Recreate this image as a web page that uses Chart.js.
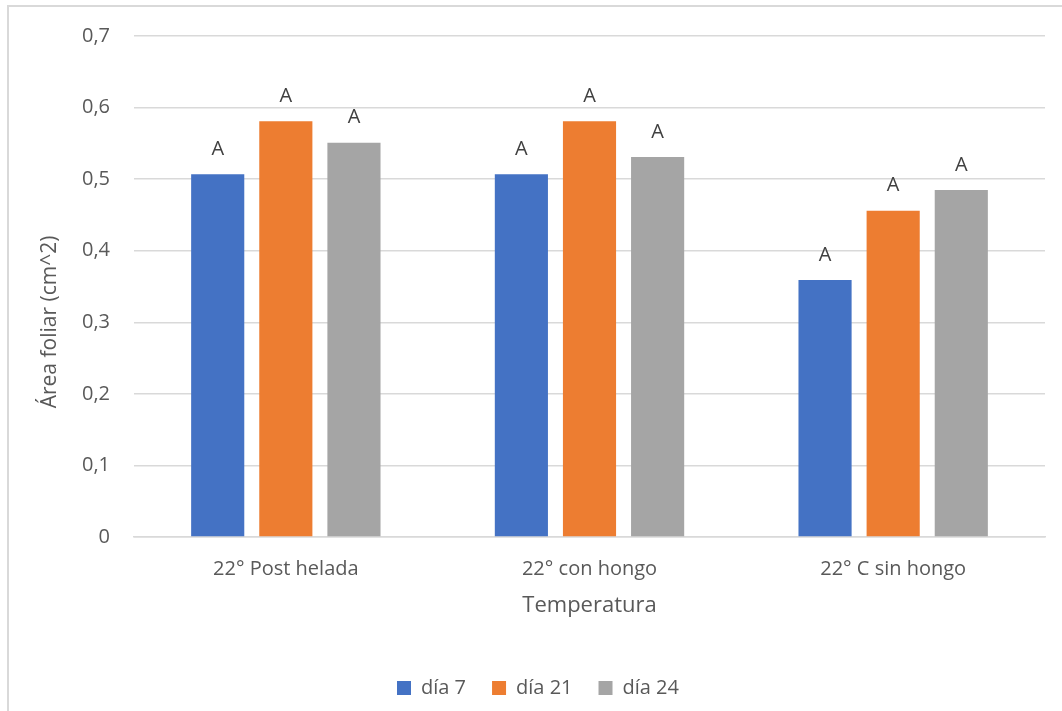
<!DOCTYPE html>
<html>
<head>
<meta charset="utf-8">
<script src="https://cdn.jsdelivr.net/npm/chart.js@4"></script>
<style>
  html, body { margin: 0; padding: 0; background: #ffffff; }
  #wrap { position: relative; width: 1062px; height: 711px; }
</style>
</head>
<body>
<div id="wrap"><canvas id="chart" width="1062" height="711"></canvas></div>
<script>
// Área foliar por tratamiento y día de medición
const categories = ['22° Post helada', '22° con hongo', '22° C sin hongo'];
const seriesNames = ['día 7', 'día 21', 'día 24'];
const dia7 = [0.507, 0.507, 0.359];
const dia21 = [0.581, 0.581, 0.456];
const dia24 = [0.551, 0.531, 0.485];
const letters7 = ['A', 'A', 'A'];
const letters21 = ['A', 'A', 'A'];
const letters24 = ['A', 'A', 'A'];
const yTicks = [0, 0.1, 0.2, 0.3, 0.4, 0.5, 0.6, 0.7];
const xTitle = 'Temperatura';
const yTitle = 'Área foliar (cm^2)';

const FONT = '"Open Sans", "Liberation Sans", sans-serif';
const TEXT = '#595959';
const colors = ['#4472C4', '#ED7D31', '#A5A5A5'];
const seriesValues = [dia7, dia21, dia24];
const seriesLetters = [letters7, letters21, letters24];

// Thin frame along the top and left edges of the chart object
const framePlugin = {
  id: 'frame',
  beforeDraw(chart) {
    const ctx = chart.ctx;
    ctx.save();
    ctx.fillStyle = '#d9d9d9';
    ctx.fillRect(7, 5, chart.width - 7, 2);
    ctx.fillRect(7, 5, 2, chart.height - 5);
    ctx.restore();
  }
};

// Significance letters above each bar
const lettersPlugin = {
  id: 'letters',
  afterDatasetsDraw(chart) {
    const ctx = chart.ctx;
    ctx.save();
    ctx.font = '20px ' + FONT;
    ctx.fillStyle = '#404040';
    ctx.textAlign = 'center';
    ctx.textBaseline = 'middle';
    chart.data.datasets.forEach((ds, di) => {
      const meta = chart.getDatasetMeta(di);
      meta.data.forEach((bar, i) => {
        ctx.fillText(ds.letters[i], bar.x, bar.y - 25);
      });
    });
    ctx.restore();
  }
};

// Vertical axis title
const yTitlePlugin = {
  id: 'yTitle',
  afterDraw(chart) {
    const ctx = chart.ctx;
    ctx.save();
    ctx.font = '21px ' + FONT;
    ctx.fillStyle = TEXT;
    ctx.textAlign = 'center';
    ctx.textBaseline = 'middle';
    ctx.translate(50, 322);
    ctx.rotate(-Math.PI / 2);
    ctx.fillText(yTitle, 0, 0);
    ctx.restore();
  }
};

new Chart(document.getElementById('chart'), {
  type: 'bar',
  data: {
    labels: categories,
    datasets: seriesNames.map((name, k) => ({
      label: name,
      data: seriesValues[k],
      letters: seriesLetters[k],
      backgroundColor: colors[k],
      borderWidth: 0,
      categoryPercentage: 0.673,
      barPercentage: 0.78
    }))
  },
  options: {
    responsive: false,
    animation: false,
    devicePixelRatio: 1,
    layout: { padding: { left: 31, right: 17, top: 35, bottom: 3 } },
    scales: {
      y: {
        min: 0,
        max: 0.7,
        afterBuildTicks(scale) {
          scale.ticks = yTicks.map(v => ({ value: v }));
        },
        afterFit(scale) { scale.width = 103; },
        grid: { color: '#d9d9d9', lineWidth: 1.5, drawTicks: false },
        border: { display: false },
        ticks: {
          padding: 24,
          color: TEXT,
          font: { family: FONT, size: 20 },
          callback: v => String(Math.round(v * 10) / 10).replace('.', ',')
        }
      },
      x: {
        afterFit(scale) { scale.height = 115; },
        grid: { display: false, drawTicks: false },
        border: { display: true, color: '#d9d9d9', width: 1.5 },
        ticks: { padding: 20, color: TEXT, font: { family: FONT, size: 20 } },
        title: {
          display: true,
          text: xTitle,
          color: TEXT,
          font: { family: FONT, size: 22 },
          padding: { top: 0, bottom: 33 }
        }
      }
    },
    plugins: {
      legend: {
        position: 'bottom',
        labels: {
          boxWidth: 14,
          boxHeight: 14,
          padding: 26,
          color: TEXT,
          font: { family: FONT, size: 20 }
        }
      },
      tooltip: { enabled: false }
    }
  },
  plugins: [framePlugin, lettersPlugin, yTitlePlugin]
});
</script>
</body>
</html>
